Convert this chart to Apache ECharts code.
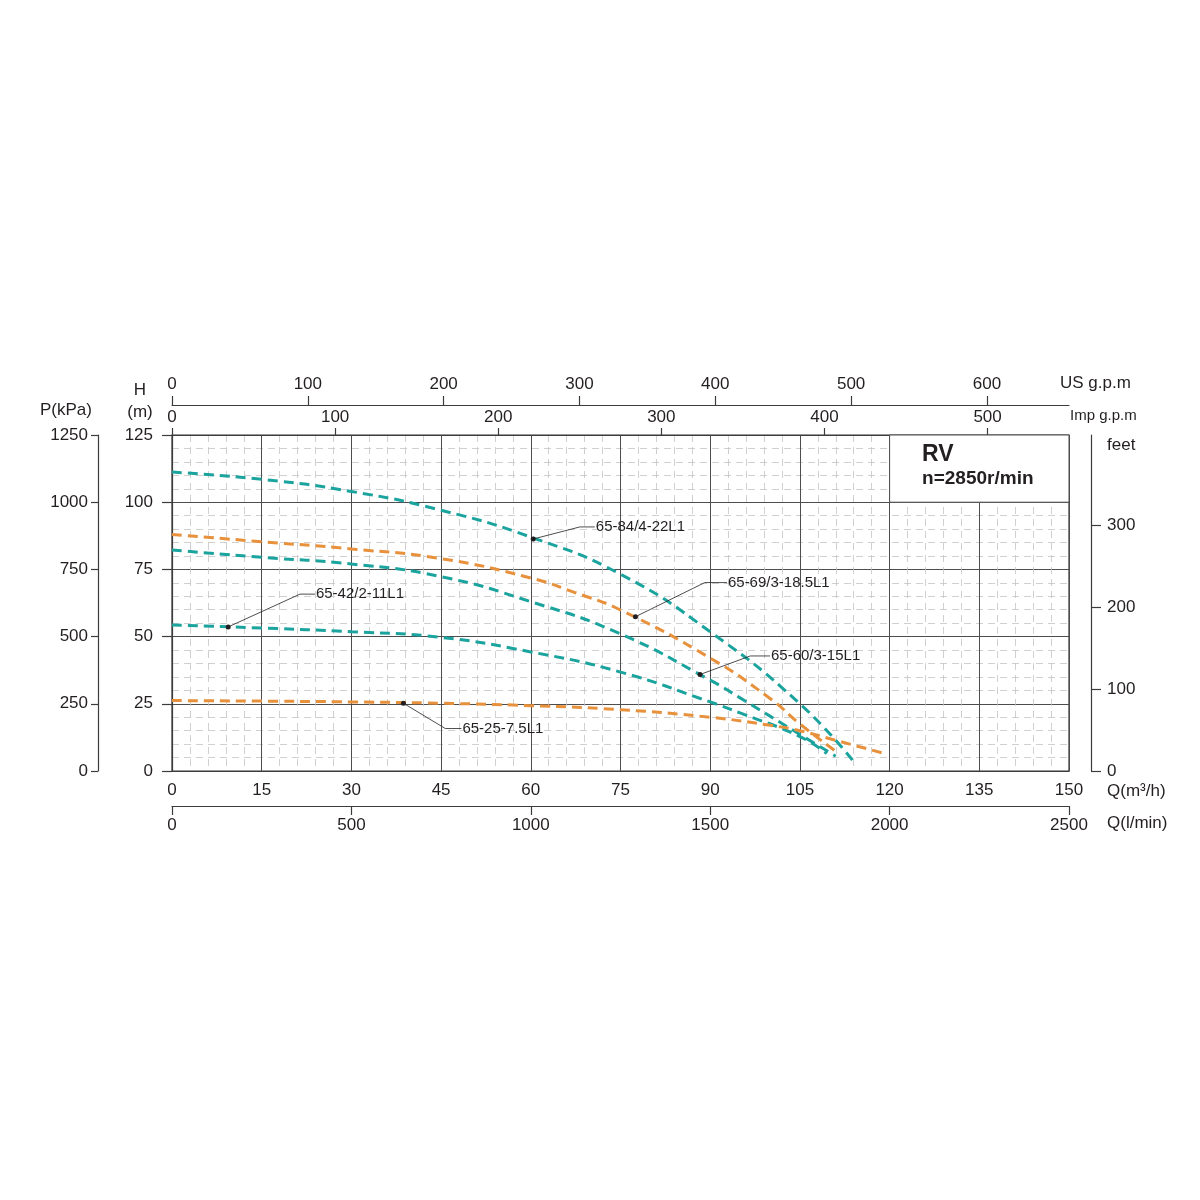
<!DOCTYPE html>
<html>
<head>
<meta charset="utf-8">
<script src="https://cdn.jsdelivr.net/npm/echarts@6/dist/echarts.min.js"></script>
<style>
  html, body { margin: 0; padding: 0; background: #fff; }
  #chart { width: 1200px; height: 1200px; }
</style>
</head>
<body>
<div id="chart"></div>
<script>
// pump curves, flow Q in m3/h, head H in m
const q8422 = [0, 15, 30, 45, 60, 75, 90, 105, 114]
const h8422 = [111.2, 108.5, 104, 97, 87, 73.2, 51.8, 25, 3.5]

const q6918 = [0, 15, 30, 45, 60, 67.5, 75, 90, 100, 105, 111.5]
const h6918 = [88, 85.3, 82.6, 79, 71.8, 66.3, 59.9, 42, 27, 17.5, 6.5]

const q6015 = [0, 15, 30, 45, 60, 75, 90, 95, 105, 111]
const h6015 = [82.2, 79.5, 77, 72.3, 63, 51, 33.8, 27.2, 13.6, 5.5]

const q4211 = [0, 15, 30, 45, 60, 75, 90, 95, 105, 109.5]
const h4211 = [54.3, 53.2, 51.8, 49.7, 44.3, 36.8, 25.7, 21.6, 12.8, 6.5]

const q2575 = [0, 15, 30, 45, 60, 75, 90, 100, 105, 110, 119.5]
const h2575 = [26.2, 26, 25.7, 25.2, 24.3, 22.8, 20, 17, 15, 12, 6.3]

// curve name labels: point on curve, elbow of leader, text anchor (Q, H)
const labelNames = ['65-84/4-22L1', '65-69/3-18.5L1', '65-60/3-15L1', '65-42/2-11L1', '65-25-7.5L1']
const labelDots = [[60.4, 86.3], [77.5, 57.4], [88.3, 35.9], [9.4, 53.6], [38.7, 25.2]]
const labelElbows = [[68.2, 90.8], [89.1, 70.1], [96.7, 42.8], [21.4, 65.8], [45.7, 15.8]]
const labelEnds = [[70.7, 90.8], [92.8, 70.1], [100, 42.8], [23.9, 65.8], [48.4, 15.8]]

// secondary scales
const feetTicks = [0, 100, 200, 300]
const usTicks = [0, 100, 200, 300, 400, 500, 600]
const impTicks = [0, 100, 200, 300, 400, 500]

const TEAL = '#1ba39e'
const ORANGE = '#e8913c'
const INK = '#231f20'
const FONT = 'Liberation Sans, Arial, sans-serif'

const qMax = 150
const hMax = 125

function curve (name, q, h, color) {
  return {
    type: 'line',
    name: name,
    data: q.map((x, i) => [x, h[i]]),
    smooth: 0.5,
    symbol: 'none',
    lineStyle: { color: color, width: 3, type: [10, 6] },
    z: 3,
    silent: true
  }
}

function leader (i) {
  return {
    type: 'line',
    data: [
      { value: labelDots[i], symbol: 'circle', symbolSize: 5 },
      { value: labelElbows[i], symbol: 'none' },
      { value: labelEnds[i], symbol: 'none' }
    ],
    showSymbol: true,
    lineStyle: { color: INK, width: 0.8 },
    itemStyle: { color: INK },
    endLabel: {
      show: true,
      formatter: labelNames[i],
      color: INK,
      fontFamily: FONT,
      fontSize: 15,
      distance: 1
    },
    z: 4,
    silent: true
  }
}

const plain = v => String(Math.round(v))
const labelStyle = { color: INK, fontFamily: FONT, fontSize: 17 }
const lineStyle = { color: '#3c3c3c', width: 1.2 }
const axisLine = { show: true, onZero: false, lineStyle: lineStyle }

let series = [
  curve('65-84/4-22L1', q8422, h8422, TEAL),
  curve('65-69/3-18.5L1', q6918, h6918, ORANGE),
  curve('65-60/3-15L1', q6015, h6015, TEAL),
  curve('65-42/2-11L1', q4211, h4211, TEAL),
  curve('65-25-7.5L1', q2575, h2575, ORANGE)
]
// title box in the top right cell
series[4].markArea = {
  silent: true,
  itemStyle: { color: '#fff', opacity: 1, borderColor: '#4d4d4d', borderWidth: 1 },
  label: {
    show: true,
    position: [33, 8],
    formatter: '{a|RV}\n{b|n=2850r/min}',
    rich: {
      a: { fontSize: 23, fontWeight: 'bold', lineHeight: 24, color: INK, fontFamily: FONT },
      b: { fontSize: 19, fontWeight: 'bold', lineHeight: 24, color: INK, fontFamily: FONT }
    }
  },
  data: [[{ coord: [120, 100] }, { coord: [qMax, hMax] }]]
}
for (let i = 0; i < labelNames.length; i++) series.push(leader(i))

const option = {
  animation: false,
  backgroundColor: '#fff',
  grid: {
    left: 172, top: 435, width: 897, height: 336,
    show: true, borderColor: '#333', borderWidth: 1.2,
    outerBoundsMode: 'none'
  },
  xAxis: [
    {
      type: 'value', position: 'bottom', min: 0, max: qMax, interval: 15,
      name: 'Q(m³/h)', nameLocation: 'end', nameGap: 38, nameMoveOverlap: false,
      nameTextStyle: { ...labelStyle, verticalAlign: 'top', padding: [12, 0, 0, 0] },
      axisLine: axisLine,
      axisTick: { show: false },
      axisLabel: { ...labelStyle, margin: 11, formatter: plain },
      splitLine: { show: true, lineStyle: { color: '#4d4d4d', width: 1 } },
      minorTick: { show: true, splitNumber: 5, length: 0 },
      minorSplitLine: { show: true, lineStyle: { color: '#c4c4c4', width: 0.8, type: [7, 5] } }
    },
    {
      type: 'value', position: 'bottom', offset: 35, min: 0, max: 2500, interval: 500,
      name: 'Q(l/min)', nameLocation: 'end', nameGap: 38, nameMoveOverlap: false,
      nameTextStyle: { ...labelStyle, verticalAlign: 'top', padding: [9, 0, 0, 0] },
      axisLine: axisLine,
      axisTick: { show: true, length: 9, lineStyle: lineStyle },
      axisLabel: { ...labelStyle, margin: 11, formatter: plain },
      splitLine: { show: false }
    },
    {
      type: 'value', position: 'top', offset: 0, min: 0, max: qMax * 1000 / 60 / 4.54609, interval: 100,
      name: 'Imp g.p.m', nameLocation: 'end', nameGap: 1, nameMoveOverlap: false,
      nameTextStyle: { ...labelStyle, fontSize: 15, verticalAlign: 'bottom', padding: [0, 0, 12, 0] },
      axisLine: axisLine,
      axisTick: { show: true, length: 7, lineStyle: lineStyle, customValues: impTicks },
      axisLabel: { ...labelStyle, margin: 9, customValues: impTicks, formatter: plain },
      splitLine: { show: false }
    },
    {
      type: 'value', position: 'top', offset: 30, min: 0, max: qMax * 1000 / 60 / 3.785411784, interval: 100,
      name: 'US g.p.m', nameLocation: 'end', nameGap: -9, nameMoveOverlap: false,
      nameTextStyle: { ...labelStyle, verticalAlign: 'bottom', padding: [0, 0, 13, 0] },
      axisLine: axisLine,
      axisTick: { show: true, length: 9, lineStyle: lineStyle, customValues: usTicks },
      axisLabel: { ...labelStyle, margin: 12, customValues: usTicks, formatter: plain },
      splitLine: { show: false }
    }
  ],
  yAxis: [
    {
      type: 'value', position: 'left', min: 0, max: hMax, interval: 25,
      name: 'H\n(m)', nameLocation: 'end', nameGap: 12, nameMoveOverlap: false,
      nameTextStyle: { ...labelStyle, lineHeight: 22, padding: [0, 64, 0, 0] },
      axisLine: axisLine,
      axisTick: { show: true, length: 10, lineStyle: lineStyle },
      axisLabel: { ...labelStyle, margin: 19, formatter: plain },
      splitLine: { show: true, lineStyle: { color: '#4d4d4d', width: 1 } },
      minorTick: { show: true, splitNumber: 5, length: 0 },
      minorSplitLine: { show: true, lineStyle: { color: '#c4c4c4', width: 0.8, type: [7, 5] } }
    },
    {
      type: 'value', position: 'left', offset: 74, min: 0, max: 1250, interval: 250,
      name: 'P(kPa)', nameLocation: 'end', nameGap: 16, nameMoveOverlap: false,
      nameTextStyle: { ...labelStyle, padding: [0, 64, 0, 0] },
      axisLine: axisLine,
      axisTick: { show: true, length: 7, lineStyle: lineStyle },
      axisLabel: { ...labelStyle, margin: 10, formatter: plain },
      splitLine: { show: false }
    },
    {
      type: 'value', position: 'right', offset: 22, min: 0, max: hMax / 0.3048, interval: 100,
      name: 'feet', nameLocation: 'end', nameGap: -10, nameMoveOverlap: false,
      nameTextStyle: { ...labelStyle, align: 'left', verticalAlign: 'middle', padding: [0, 0, 0, 16] },
      axisLine: axisLine,
      axisTick: { show: true, length: 10, lineStyle: lineStyle, customValues: feetTicks },
      axisLabel: { ...labelStyle, margin: 16, customValues: feetTicks, formatter: plain },
      splitLine: { show: false }
    }
  ],
  series: series
}

const chart = echarts.init(document.getElementById('chart'))
chart.setOption(option)
</script>
</body>
</html>
